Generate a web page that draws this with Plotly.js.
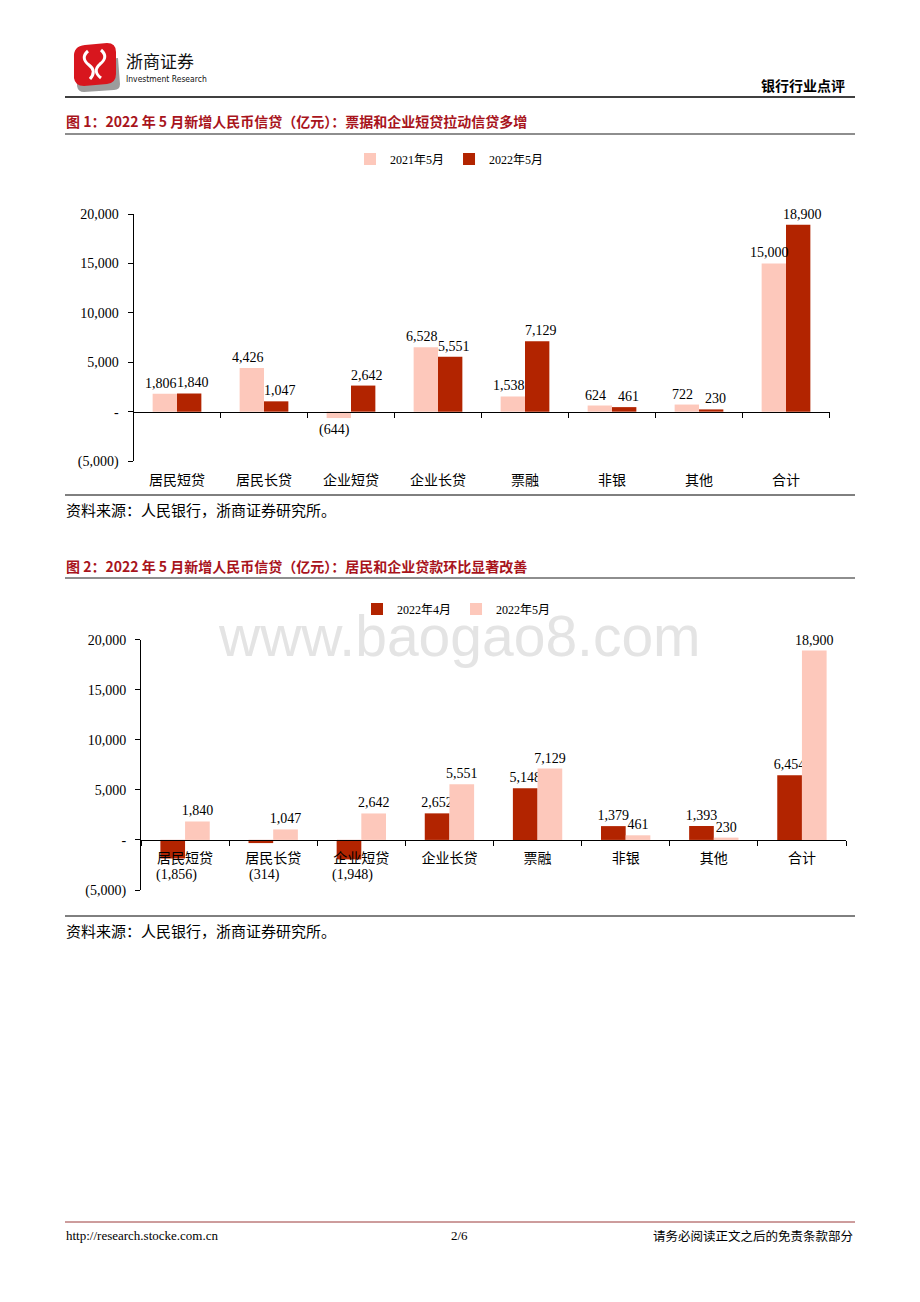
<!DOCTYPE html>
<html>
<head>
<meta charset="utf-8">
<script src="https://cdn.plot.ly/plotly-3.0.1.min.js"></script>
<style>
html,body{margin:0;padding:0;background:#fff;}
#chart{width:920px;height:1302px;}
</style>
</head>
<body>
<div id="chart"></div>
<script>
// ---------- data ----------
const categories = ['居民短贷','居民长贷','企业短贷','企业长贷','票融','非银','其他','合计'];
const may2021 = [1806, 4426, -644, 6528, 1538, 624, 722, 15000];
const may2022 = [1840, 1047, 2642, 5551, 7129, 461, 230, 18900];
const apr2022 = [-1856, -314, -1948, 2652, 5148, 1379, 1393, 6454];
const yTickVals = [-5000, 0, 5000, 10000, 15000, 20000];
const yTickText = ['(5,000)', '-', '5,000', '10,000', '15,000', '20,000'];
const yRange = [-5000, 20000];

const title1 = '图 1：2022 年 5 月新增人民币信贷（亿元）：票据和企业短贷拉动信贷多增';
const title2 = '图 2：2022 年 5 月新增人民币信贷（亿元）：居民和企业贷款环比显著改善';
const sourceText = '资料来源：人民银行，浙商证券研究所。';

// ---------- helpers ----------
const W = 920, H = 1302;
const fx = p => p / W;
const fy = p => 1 - p / H;
const fmt = v => {
  const s = Math.abs(v).toLocaleString('en-US');
  return v < 0 ? '(' + s + ')' : s;
};
const pathPx = s => s.replace(/(-?\d+\.?\d*)[ ,]+(-?\d+\.?\d*)/g,
  (m, a, b) => (fx(+a)).toFixed(5) + ',' + (fy(+b)).toFixed(5));

const DARK = '#B22400';
const PINK = '#FDC8BB';
const SERIF = '"Liberation Serif", "Times New Roman", "Noto Sans CJK SC", serif';
const CJK = '"Noto Sans CJK SC", sans-serif';
const TITLE_RED = '#A8141C';
const BARGAP = 0.44;

// plot geometry (pixels)
const c1 = {left: 133.5, right: 829.5, top: 214, bottom: 461.1};
const c2 = {left: 141, right: 846, top: 639.6, bottom: 890};
const zeroPos = c => fy(c.bottom) + (0 - yRange[0]) / (yRange[1] - yRange[0]) * (fy(c.top) - fy(c.bottom));

// ---------- traces ----------
const numFont = {family: SERIF, size: 14, color: '#000'};
const traces = [
  {type: 'bar', x: categories, y: may2021, name: '2021年5月', marker: {color: PINK},
   cliponaxis: false, xaxis: 'x', yaxis: 'y', legend: 'legend', hoverinfo: 'skip'},
  {type: 'bar', x: categories, y: may2022, name: '2022年5月', marker: {color: DARK},
   cliponaxis: false, xaxis: 'x', yaxis: 'y', legend: 'legend', hoverinfo: 'skip'},
  {type: 'bar', x: categories, y: apr2022, name: '2022年4月', marker: {color: DARK},
   text: apr2022.map(v => v < 0 ? '' : fmt(v)), textposition: 'outside', textfont: numFont, constraintext: 'none',
   cliponaxis: false, xaxis: 'x2', yaxis: 'y2', legend: 'legend2', hoverinfo: 'skip'},
  {type: 'bar', x: categories, y: may2022, name: '2022年5月', marker: {color: PINK},
   text: may2022.map(fmt), textposition: 'outside', textfont: numFont, constraintext: 'none',
   cliponaxis: false, xaxis: 'x2', yaxis: 'y2', legend: 'legend2', hoverinfo: 'skip'}
];

// ---------- axes ----------
const xBase = {
  type: 'category', showgrid: false, zeroline: false, showline: true, linecolor: '#000', linewidth: 1,
  ticks: 'outside', tickson: 'boundaries', ticklen: 5, tickcolor: '#000', tickwidth: 1,
  tickfont: {family: SERIF, size: 14, color: '#000'}, anchor: 'free', fixedrange: true
};
const yBase = {
  range: yRange, showgrid: false, zeroline: false, showline: true, linecolor: '#000', linewidth: 1,
  ticks: 'outside', ticklen: 5, tickcolor: '#000', tickwidth: 1,
  tickvals: yTickVals, ticktext: yTickText, ticklabelstandoff: 6,
  tickfont: {family: SERIF, size: 14, color: '#000'}, fixedrange: true
};

// ---------- annotations ----------
const ann = [];
const txt = (x, y, text, font, xanchor) => ann.push({xref: 'paper', yref: 'paper', x: fx(x), y: fy(y),
  text: text, showarrow: false, xanchor: xanchor || 'left', yanchor: 'middle', font: font});

txt(124, 60, '浙商证券', {family: CJK, size: 17, color: '#111'});
txt(124, 79, 'Investment Research', {family: '"DejaVu Sans Condensed", "Liberation Sans Narrow", "Liberation Sans", sans-serif', size: 8.5, color: '#111'});
txt(847, 85, '<b>银行行业点评</b>', {family: CJK, size: 14, color: '#000'}, 'right');
txt(64, 121, '<b>' + title1 + '</b>', {family: CJK, size: 14, color: TITLE_RED});
txt(64, 566, '<b>' + title2 + '</b>', {family: CJK, size: 14, color: TITLE_RED});
txt(64, 509, sourceText, {family: CJK, size: 15, color: '#000'});
txt(64, 930, sourceText, {family: CJK, size: 15, color: '#000'});
txt(64, 1235, 'http://research.stocke.com.cn', {family: SERIF, size: 13, color: '#000'});
txt(459, 1235, '2/6', {family: SERIF, size: 13, color: '#000'}, 'center');
txt(855, 1235, '请务必阅读正文之后的免责条款部分', {family: CJK, size: 12.5, color: '#000'}, 'right');
// watermark
ann.push({xref: 'paper', yref: 'paper', x: fx(459), y: fy(636), text: 'www.baogao8.com', showarrow: false,
  xanchor: 'center', yanchor: 'middle', font: {family: '"Liberation Sans", Arial, sans-serif', size: 57, color: '#E4E4E4'}});

// value labels for chart 1 (pushed slightly apart within each pair)
const barHalf1 = (c1.right - c1.left) / categories.length * (1 - BARGAP) / 4;
const addLabels1 = (vals, side) => vals.forEach((v, i) => ann.push({
  xref: 'x', yref: 'y', x: categories[i], y: v, xshift: side * (barHalf1 + 4),
  yshift: v < 0 ? -2 : 1, yanchor: v < 0 ? 'top' : 'bottom', xanchor: 'center',
  text: fmt(v), showarrow: false, font: numFont}));
addLabels1(may2021, -1);
addLabels1(may2022, 1);

// negative value labels for chart 2
apr2022.forEach((v, i) => {
  if (v < 0) ann.push({xref: 'x2', yref: 'y2', x: categories[i], y: 0, xshift: -9, yshift: -35,
    text: fmt(v), showarrow: false, font: numFont, xanchor: 'center', yanchor: 'middle'});
});

// ---------- shapes ----------
const line = (x0, x1, y, color, w) => ({type: 'line', xref: 'paper', yref: 'paper',
  x0: fx(x0), x1: fx(x1), y0: fy(y), y1: fy(y), line: {color: color, width: w}});
const shapes = [
  line(65, 855, 97, '#000', 1.3),
  line(65, 855, 134, '#8E8E8E', 2.2),
  line(65, 855, 495, '#000', 1),
  line(65, 855, 578, '#8E8E8E', 2.2),
  line(65, 855, 916, '#000', 1),
  line(65, 855, 1222, '#9B3A3A', 1),
  // logo
  {type: 'path', xref: 'paper', yref: 'paper', path: pathPx('M 78 62 L 118 58 L 120 84 Q 120 90 114 90 L 84 92 Q 78 92 77 86 Z'),
   fillcolor: '#9C9C9C', line: {width: 0}},
  {type: 'path', xref: 'paper', yref: 'paper', path: pathPx('M 74 58 Q 73 46 85 45 L 107 43 Q 116 43 116 52 L 116 74 Q 116 83 107 84 L 84 86 Q 75 86 74 78 Z'),
   fillcolor: '#D8161E', line: {width: 0}},
  {type: 'path', xref: 'paper', yref: 'paper', path: pathPx('M 88 51 Q 80 58 89 65 Q 97 71 90 79'),
   fillcolor: 'rgba(0,0,0,0)', line: {color: '#fff', width: 3}},
  {type: 'path', xref: 'paper', yref: 'paper', path: pathPx('M 101 50 Q 109 57 100 64 Q 92 71 101 78'),
   fillcolor: 'rgba(0,0,0,0)', line: {color: '#fff', width: 3}}
];

// ---------- layout ----------
const legendBase = {orientation: 'h', xanchor: 'left', yanchor: 'middle', bgcolor: 'rgba(0,0,0,0)',
  font: {family: SERIF, size: 12, color: '#000'}, itemwidth: 30, traceorder: 'normal',
  itemclick: false, itemdoubleclick: false};

const layout = {
  width: W, height: H, margin: {l: 0, r: 0, t: 0, b: 0},
  paper_bgcolor: '#fff', plot_bgcolor: 'rgba(0,0,0,0)',
  barmode: 'group', bargap: BARGAP, bargroupgap: 0,
  showlegend: true,
  legend: Object.assign({}, legendBase, {x: fx(350), y: fy(159)}),
  legend2: Object.assign({}, legendBase, {x: fx(357), y: fy(609)}),
  xaxis: Object.assign({}, xBase, {domain: [fx(c1.left), fx(c1.right)], position: zeroPos(c1), ticklabelstandoff: 56}),
  yaxis: Object.assign({}, yBase, {domain: [fy(c1.bottom), fy(c1.top)], anchor: 'x'}),
  xaxis2: Object.assign({}, xBase, {domain: [fx(c2.left), fx(c2.right)], position: zeroPos(c2), ticklabelstandoff: 5}),
  yaxis2: Object.assign({}, yBase, {domain: [fy(c2.bottom), fy(c2.top)], anchor: 'x2'}),
  annotations: ann,
  shapes: shapes
};

Plotly.newPlot('chart', traces, layout, {staticPlot: true, displayModeBar: false});
</script>
</body>
</html>
